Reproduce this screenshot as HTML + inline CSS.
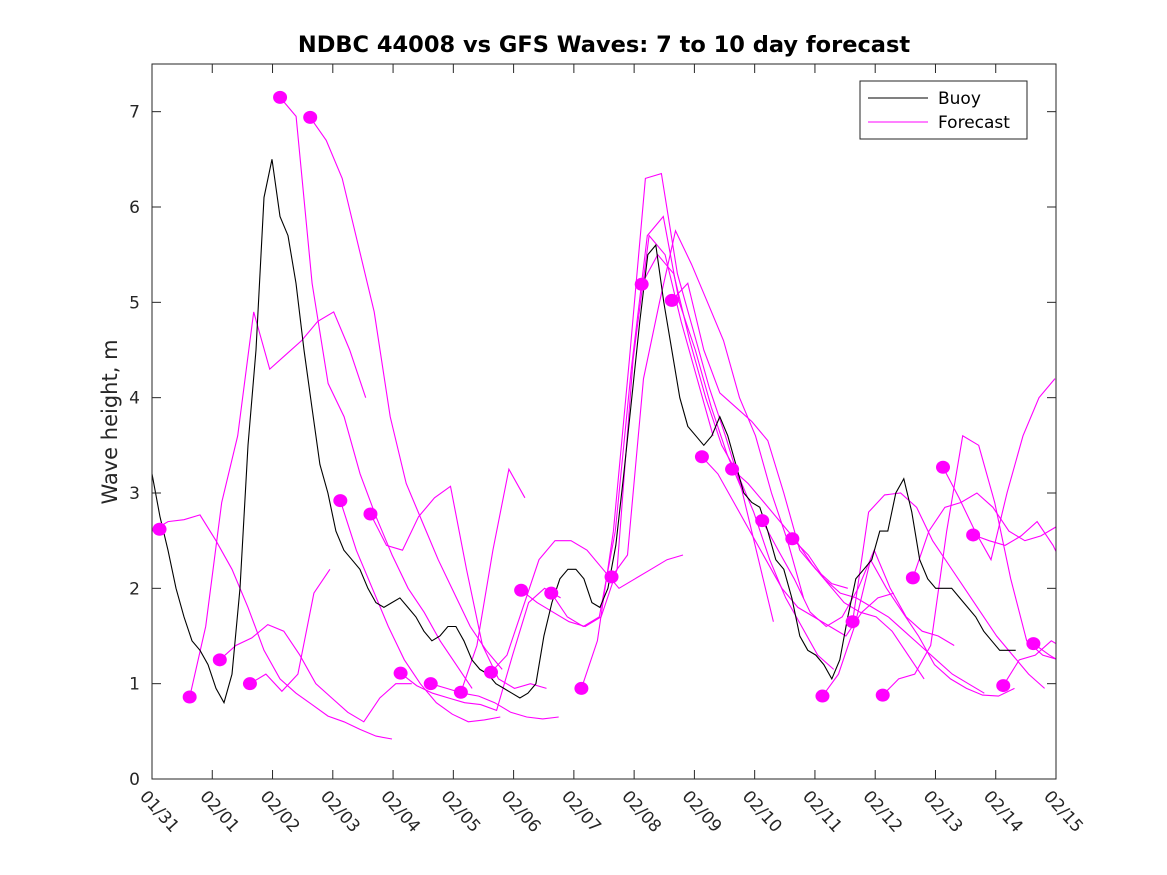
<!DOCTYPE html>
<html><head><meta charset="utf-8">
<style>
html,body{margin:0;padding:0;background:#fff;}
svg{display:block;font-family:"DejaVu Sans","Liberation Sans",sans-serif;}
</style></head>
<body>
<svg id="chart" width="1167" height="875" viewBox="0 0 1167 875">
<rect x="0" y="0" width="1167" height="875" fill="#fff"/>
<text x="604" y="52" text-anchor="middle" font-size="22.5" font-weight="bold" fill="#000">NDBC 44008 vs GFS Waves: 7 to 10 day forecast</text>
<text transform="translate(117,422) rotate(-90)" text-anchor="middle" font-size="21" fill="#262626">Wave height, m</text>
<g id="plot"></g>
<g id="axes"></g>
<g id="legend">
<rect x="860" y="81" width="167" height="58" fill="#fff" stroke="#262626" stroke-width="1"/>
<line x1="868" y1="98" x2="928" y2="98" stroke="#000" stroke-width="1"/>
<text x="938" y="104" font-size="17" fill="#000">Buoy</text>
<line x1="868" y1="122" x2="928" y2="122" stroke="#ff00ff" stroke-width="1"/>
<text x="938" y="128" font-size="17" fill="#000">Forecast</text>
</g>
</svg>
<script>
const xTickLabels=["01/31","02/01","02/02","02/03","02/04","02/05","02/06","02/07","02/08","02/09","02/10","02/11","02/12","02/13","02/14","02/15"];
const yTicks=[0,1,2,3,4,5,6,7];
const buoyStartDay=0;
const buoyStepDays=0.1327;
const buoyValues=[3.2,2.75,2.4,2.0,1.7,1.45,1.35,1.2,0.95,0.8,1.1,2.0,3.5,4.5,6.1,6.5,5.9,5.7,5.2,4.5,3.9,3.3,3.0,2.6,2.4,2.3,2.2,2.0,1.85,1.8,1.85,1.9,1.8,1.7,1.55,1.45,1.5,1.6,1.6,1.45,1.25,1.15,1.1,1.0,0.95,0.9,0.85,0.9,1.0,1.5,1.85,2.1,2.2,2.2,2.1,1.85,1.8,2.0,2.45,3.2,4.0,4.8,5.5,5.6,5.0,4.5,4.0,3.7,3.6,3.5,3.6,3.8,3.6,3.3,3.0,2.9,2.85,2.6,2.3,2.2,1.9,1.5,1.35,1.3,1.2,1.05,1.25,1.7,2.1,2.2,2.3,2.6,2.6,3.0,3.15,2.8,2.3,2.1,2.0,2.0,2.0,1.9,1.8,1.7,1.55,1.45,1.35,1.35,1.35];
const dotDays=[0.125,0.625,1.125,1.625,2.125,2.625,3.125,3.625,4.125,4.625,5.125,5.625,6.125,6.625,7.125,7.625,8.125,8.625,9.125,9.625,10.125,10.625,11.125,11.625,12.125,12.625,13.125,13.625,14.125,14.625];
const dotValues=[2.62,0.86,1.25,1.0,7.15,6.94,2.92,2.78,1.11,1.0,0.91,1.12,1.98,1.95,0.95,2.12,5.19,5.02,3.38,3.25,2.71,2.52,0.87,1.65,0.88,2.11,3.27,2.56,0.98,1.42];
const fcStepDays=0.2655;
const fc01=[2.6,2.7,2.72,2.77,2.5,2.2,1.8,1.35,1.05,0.9,0.78,0.66,0.6,0.52,0.45,0.42];
const fc02=[0.86,1.6,2.9,3.6,4.9,4.3,4.45,4.6,4.8,4.9,4.5,4.0];
const fc03=[1.25,1.4,1.48,1.62,1.55,1.3,1.0,0.85,0.7,0.6,0.85,1.0,1.0];
const fc04=[1.0,1.1,0.92,1.1,1.95,2.2];
const fc05=[7.15,6.95,5.2,4.15,3.8,3.2,2.75,2.35,2.0,1.75,1.45,1.2,0.95];
const fc06=[6.94,6.7,6.3,5.6,4.9,3.8,3.1,2.7,2.3,1.95,1.6,1.35,1.15];
const fc07=[2.92,2.4,2.0,1.6,1.25,1.0,0.8,0.68,0.6,0.62,0.65];
const fc08=[2.78,2.45,2.4,2.75,2.95,3.07,2.2,1.4,1.05,0.95,1.0,0.95];
const fc09=[1.11,0.98,0.9,0.85,0.8,0.78,0.72,1.3,1.85,2.0,1.9];
const fc10=[1.0,0.95,0.9,0.87,0.8,0.7,0.65,0.63,0.65];
const fc11=[0.91,1.4,2.4,3.25,2.95];
const fc12=[1.12,1.3,1.8,2.3,2.5,2.5,2.4,2.2,2.0,2.1,2.2,2.3,2.35];
const fc13=[1.98,1.85,1.75,1.65,1.6,1.7,2.2,4.4,5.7,5.5,4.8,4.2,3.6];
const fc14=[1.95,1.7,1.6,1.7,2.6,4.3,5.7,5.9,5.0,4.5,3.9,3.4,3.0];
const fc15=[0.95,1.45,2.6,4.4,6.3,6.35,5.3,4.7,4.1,3.6,3.05,2.35,1.65];
const fc16=[2.12,2.35,4.2,5.0,5.75,5.4,5.0,4.6,4.0,3.6,3.0,2.5,1.9];
const fc17=[5.19,5.5,5.3,4.6,4.0,3.5,3.2,2.8,2.3,1.9,1.6,1.3,1.15];
const fc18=[5.02,5.2,4.5,4.05,3.9,3.75,3.55,3.0,2.4,2.2,2.05,2.0];
const fc19=[3.38,3.2,2.9,2.6,2.3,2.0,1.8,1.7,1.6,1.5,1.75,1.9,1.95];
const fc20=[3.25,3.1,2.9,2.7,2.5,2.25,2.05,1.85,1.75,1.7,1.55,1.3,1.05];
const fc21=[2.71,2.4,2.1,1.75,1.6,1.7,2.0,2.4,2.0,1.7,1.55,1.5,1.4];
const fc22=[2.52,2.35,2.1,1.95,1.9,1.8,1.7,1.55,1.4,1.25,1.1,1.0,0.9];
const fc23=[0.87,1.1,1.6,2.3,2.0,1.75,1.5,1.2,1.05,0.95,0.88,0.87,0.95];
const fc24=[1.65,2.8,2.98,3.0,2.85,2.5,2.25,2.0,1.75,1.5,1.3,1.1,0.95];
const fc25=[0.88,1.05,1.1,1.4,2.6,3.6,3.5,2.9,2.1,1.45,1.3,1.25];
const fc26=[2.11,2.6,2.85,2.9,3.0,2.85,2.6,2.5,2.55,2.65,2.5,2.3,2.1];
const fc27=[3.27,2.95,2.6,2.3,3.0,3.6,4.0,4.2];
const fc28=[2.56,2.5,2.45,2.55,2.7,2.45,2.1,1.95];
const fc29=[0.98,1.25,1.3,1.45,1.35];
const fc30=[1.42,1.3,1.2];
const forecasts=[fc01,fc02,fc03,fc04,fc05,fc06,fc07,fc08,fc09,fc10,fc11,fc12,fc13,fc14,fc15,fc16,fc17,fc18,fc19,fc20,fc21,fc22,fc23,fc24,fc25,fc26,fc27,fc28,fc29,fc30];
const forecastStartDays=[0,0.625,1.125,1.625,2.125,2.625,3.125,3.625,4.125,4.625,5.125,5.625,6.125,6.625,7.125,7.625,8.125,8.625,9.125,9.625,10.125,10.625,11.125,11.625,12.125,12.625,13.125,13.625,14.125,14.625];

const NS="http://www.w3.org/2000/svg";
const L=152,R=1056,T=64,B=779,XMAX=15,YMAX=7.5;
function xs(d){return L+(R-L)*d/XMAX;}
function ys(v){return B-(B-T)*v/YMAX;}
function mk(tag,attrs,parent){const e=document.createElementNS(NS,tag);for(const k in attrs)e.setAttribute(k,attrs[k]);parent.appendChild(e);return e;}
const plot=document.getElementById('plot');
const axes=document.getElementById('axes');
const clip=mk('clipPath',{id:'clipP'},plot);
mk('rect',{x:L,y:T,width:R-L,height:B-T},clip);
const g=mk('g',{'clip-path':'url(#clipP)'},plot);


forecasts.forEach((arr,i)=>{
  const pts=arr.map((v,j)=>xs(forecastStartDays[i]+j*fcStepDays).toFixed(1)+','+ys(v).toFixed(1)).join(' ');
  const p=mk('polyline',{points:pts,fill:'none',stroke:'#ff00ff','stroke-width':1.1},g);
  
  
});
const bp=buoyValues.map((v,j)=>xs(buoyStartDay+j*buoyStepDays).toFixed(1)+','+ys(v).toFixed(1)).join(' ');
const buoy=mk('polyline',{points:bp,fill:'none',stroke:'#000','stroke-width':1.1},g);


dotDays.forEach((d,i)=>{
  const c=mk('ellipse',{cx:xs(d),cy:ys(dotValues[i]),rx:7,ry:6.5,fill:'#ff00ff'},g);
  
  
});
const frame=mk('rect',{x:L,y:T,width:R-L,height:B-T,fill:'none',stroke:'#262626','stroke-width':1},axes);


yTicks.forEach(v=>{
  const y=ys(v);
  mk('line',{x1:L,y1:y,x2:L+9,y2:y,stroke:'#262626'},axes);
  mk('line',{x1:R,y1:y,x2:R-9,y2:y,stroke:'#262626'},axes);
  const t=mk('text',{x:L-12,y:y+6,'text-anchor':'end','font-size':17,fill:'#262626'},axes);
  t.textContent=v;
  
  
});
xTickLabels.forEach((lab,i)=>{
  const x=xs(i);
  mk('line',{x1:x,y1:B,x2:x,y2:B-9,stroke:'#262626'},axes);
  mk('line',{x1:x,y1:T,x2:x,y2:T+9,stroke:'#262626'},axes);
  const t=mk('text',{transform:'translate('+(x-13)+','+(797)+') rotate(48)','font-size':17,fill:'#262626'},axes);
  t.textContent=lab;
  
  
});
</script>
</body></html>
